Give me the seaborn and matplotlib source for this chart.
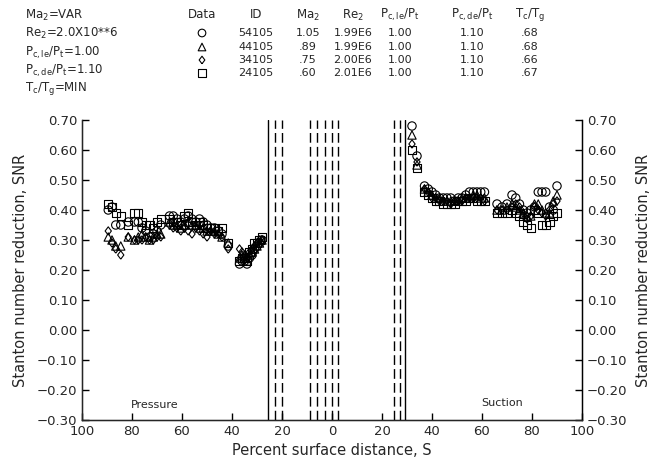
import numpy as np
import pandas as pd
import matplotlib
matplotlib.use('Agg')
import matplotlib.pyplot as plt
import seaborn as sns

# run ids / markers (legend table)
run_ids = ['54105', '44105', '34105', '24105']
diamond = [(0, -1), (0.75, 0), (0, 1), (-0.75, 0), (0, -1)]
run_markers = ['o', '^', diamond, 's']
ma2 = ['1.05', '.89', '.75', '.60']
re2 = ['1.99E6', '1.99E6', '2.00E6', '2.01E6']
pc_le = ['1.00', '1.00', '1.00', '1.00']
pc_de = ['1.10', '1.10', '1.10', '1.10']
tc_tg = ['.68', '.68', '.66', '.67']

# pressure side, percent surface distance (plotted on negative side)
p_s = [89.5, 88, 86.5, 84.5, 81.5, 79, 77.5, 76, 74.5, 73, 71.5, 70, 68.5,
       65, 63.5, 62, 60.5, 59, 57.5, 56, 54.5, 53, 51.5, 50, 48.5, 47, 45.5, 44,
       41.5, 37, 36, 35, 34, 33, 32, 31, 30, 29, 28]
p_54105 = [0.40, 0.41, 0.35, 0.35, 0.36, 0.36, 0.36, 0.34, 0.33, 0.31, 0.32, 0.33, 0.35,
           0.38, 0.38, 0.37, 0.36, 0.37, 0.38, 0.37, 0.36, 0.37, 0.36, 0.35, 0.34, 0.34, 0.33, 0.32,
           0.28, 0.22, 0.23, 0.23, 0.22, 0.24, 0.25, 0.27, 0.28, 0.29, 0.30]
p_44105 = [0.31, 0.30, 0.28, 0.28, 0.31, 0.30, 0.31, 0.32, 0.31, 0.30, 0.31, 0.32, 0.32,
           0.36, 0.35, 0.35, 0.34, 0.35, 0.36, 0.35, 0.35, 0.34, 0.34, 0.33, 0.33, 0.33, 0.32, 0.31,
           0.29, 0.24, 0.25, 0.24, 0.23, 0.25, 0.26, 0.27, 0.28, 0.29, 0.30]
p_34105 = [0.33, 0.29, 0.27, 0.25, 0.31, 0.30, 0.30, 0.30, 0.31, 0.30, 0.30, 0.31, 0.31,
           0.35, 0.34, 0.34, 0.33, 0.34, 0.33, 0.32, 0.34, 0.33, 0.32, 0.31, 0.33, 0.32, 0.32, 0.31,
           0.27, 0.27, 0.26, 0.25, 0.24, 0.26, 0.27, 0.28, 0.29, 0.30, 0.30]
p_24105 = [0.42, 0.41, 0.39, 0.38, 0.35, 0.39, 0.39, 0.36, 0.35, 0.35, 0.34, 0.36, 0.37,
           0.37, 0.36, 0.36, 0.35, 0.38, 0.39, 0.36, 0.35, 0.36, 0.35, 0.34, 0.34, 0.34, 0.33, 0.34,
           0.29, 0.23, 0.24, 0.24, 0.23, 0.26, 0.27, 0.29, 0.29, 0.30, 0.31]

# suction side
s_s = [32, 34, 37, 38.5, 40, 41.5, 43, 44.5, 46, 47.5, 49, 50.5, 52, 53.5, 55, 56.5, 58,
       59.5, 61, 66, 68, 70, 72, 73.5, 75, 76.5, 78, 79.5, 81, 82.5, 84, 85.5, 87, 88.5, 90]
s_54105 = [0.68, 0.58, 0.48, 0.47, 0.46, 0.45, 0.44, 0.44, 0.44, 0.44, 0.43, 0.44, 0.44,
           0.45, 0.46, 0.46, 0.46, 0.46, 0.46, 0.42, 0.41, 0.42, 0.45, 0.44, 0.42, 0.40, 0.39,
           0.40, 0.41, 0.46, 0.46, 0.46, 0.41, 0.40, 0.48]
s_44105 = [0.65, 0.55, 0.47, 0.46, 0.45, 0.44, 0.44, 0.43, 0.43, 0.43, 0.43, 0.43, 0.44,
           0.44, 0.44, 0.45, 0.45, 0.44, 0.44, 0.40, 0.40, 0.41, 0.42, 0.41, 0.40, 0.39, 0.38,
           0.38, 0.42, 0.42, 0.40, 0.39, 0.39, 0.43, 0.45]
s_34105 = [0.62, 0.56, 0.47, 0.46, 0.44, 0.44, 0.43, 0.43, 0.43, 0.42, 0.43, 0.43, 0.43,
           0.44, 0.44, 0.44, 0.44, 0.44, 0.43, 0.40, 0.40, 0.40, 0.41, 0.42, 0.41, 0.39, 0.37,
           0.38, 0.41, 0.40, 0.39, 0.38, 0.40, 0.42, 0.43]
s_24105 = [0.60, 0.54, 0.46, 0.45, 0.44, 0.43, 0.43, 0.42, 0.42, 0.42, 0.42, 0.43, 0.43,
           0.43, 0.44, 0.44, 0.43, 0.43, 0.43, 0.39, 0.39, 0.39, 0.40, 0.39, 0.38, 0.36, 0.35,
           0.34, 0.40, 0.39, 0.35, 0.35, 0.36, 0.38, 0.39]

# film cooling hole rows (vertical reference lines)
solid_lines = [-25.5, 29.0]
dashed_lines = [-23, -20, -9, -6, -3, 0, 2.3, 24.7, 27.1]

x_ticks = [-100, -80, -60, -40, -20, 0, 20, 40, 60, 80, 100]
y_ticks = [-0.30, -0.20, -0.10, 0.00, 0.10, 0.20, 0.30, 0.40, 0.50, 0.60, 0.70]

pressure = {'54105': p_54105, '44105': p_44105, '34105': p_34105, '24105': p_24105}
suction = {'54105': s_54105, '44105': s_44105, '34105': s_34105, '24105': s_24105}

dfs = []
for rid in run_ids:
    dfs.append(pd.DataFrame({'S': -np.array(p_s), 'SNR': pressure[rid], 'ID': rid}))
    dfs.append(pd.DataFrame({'S': np.array(s_s), 'SNR': suction[rid], 'ID': rid}))
df = pd.concat(dfs).reset_index(drop=True)

sns.set_style('ticks')
plt.rcParams['font.family'] = ['DejaVu Sans']
plt.rcParams['mathtext.default'] = 'regular'

fig = plt.figure(figsize=(6.52, 4.75), dpi=100)
ax = fig.add_axes([82 / 652, 1 - 420 / 475, 500 / 652, 300 / 475])

for x in solid_lines:
    ax.axvline(x, color='black', lw=1.0)
for x in dashed_lines:
    ax.axvline(x, color='black', lw=1.0, ls=(0, (7, 3)))

sns.scatterplot(data=df, x='S', y='SNR', style='ID', style_order=run_ids,
                markers=dict(zip(run_ids, run_markers)), s=36, facecolor='none',
                edgecolor='black', linewidth=0.8, legend=False, ax=ax, zorder=3)

tick_fmt = lambda v: '%.2f' % v if v >= 0 else '\u2212%.2f' % abs(v)

ax.set_xlim(-100, 100)
ax.set_ylim(-0.30, 0.70)
ax.set_xticks(x_ticks)
ax.set_xticklabels([str(abs(v)) for v in x_ticks])
ax.set_yticks(y_ticks)
ax.set_yticklabels([tick_fmt(v) for v in y_ticks])
ax.tick_params(direction='in', length=5, width=1, labelsize=9.5, color='black')
ax.set_xlabel('Percent surface distance, S', fontsize=10.5, labelpad=4)
ax.set_ylabel('Stanton number reduction, SNR', fontsize=10.5, labelpad=6)
ax.spines['top'].set_visible(False)
for sp in ['left', 'right', 'bottom']:
    ax.spines[sp].set_color('black')
    ax.spines[sp].set_linewidth(1.0)

# right hand axis, same scale
ax2 = ax.twinx()
ax2.set_ylim(ax.get_ylim())
ax2.set_yticks(y_ticks)
ax2.set_yticklabels([tick_fmt(v) for v in y_ticks])
ax2.tick_params(direction='in', length=5, width=1, labelsize=9.5, color='black')
ax2.set_ylabel('Stanton number reduction, SNR', fontsize=10.5, rotation=90, labelpad=6)
ax2.spines['top'].set_visible(False)
ax2.spines['right'].set_color('black')

ax.text(-71, -0.25, 'Pressure', fontsize=8, ha='center', va='center')
ax.text(68, -0.245, 'Suction', fontsize=8, ha='center', va='center')

# header: run conditions
conditions = [r'Ma$_2$=VAR', r'Re$_2$=2.0X10**6', r'P$_{c,le}$/P$_t$=1.00',
              r'P$_{c,de}$/P$_t$=1.10', r'T$_c$/T$_g$=MIN']
cond_y = [15, 33, 53, 71, 89]
for txt, y in zip(conditions, cond_y):
    fig.text(25 / 652, 1 - y / 475, txt, fontsize=8.5, ha='left', va='center')

head = fig.add_axes([0, 1 - 80 / 475, 1, 80 / 475])
head.set_xlim(0, 652)
head.set_ylim(80, 0)
head.axis('off')
col_x = [202, 256, 308, 353, 400, 472, 530]
col_names = ['Data', 'ID', r'Ma$_2$', r'Re$_2$', r'P$_{c,le}$/P$_t$', r'P$_{c,de}$/P$_t$', r'T$_c$/T$_g$']
row_y = [33, 47, 60, 73]
for cx, name in zip(col_x, col_names):
    head.text(cx, 15, name, fontsize=8.5, ha='center', va='center')
table = pd.DataFrame({'ID': run_ids, 'Ma2': ma2, 'Re2': re2, 'pcle': pc_le,
                      'pcde': pc_de, 'tctg': tc_tg, 'row': row_y})
for _, r in table.iterrows():
    for cx, key in zip(col_x[1:], ['ID', 'Ma2', 'Re2', 'pcle', 'pcde', 'tctg']):
        head.text(cx, r['row'], r[key], fontsize=8, ha='center', va='center')
for m, y in zip(run_markers, row_y):
    head.scatter([col_x[0]], [y], marker=m, s=30, facecolor='none', edgecolor='black', linewidth=0.8)

fig.savefig('out.png', dpi=100)
